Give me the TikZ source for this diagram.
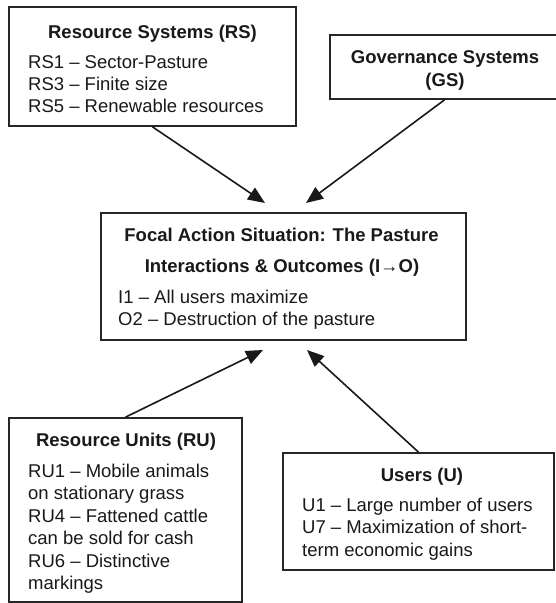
\documentclass[tikz,border=0pt]{standalone}
\usepackage{fontspec}
\setmainfont{Liberation Sans}
\usetikzlibrary{arrows.meta}
\begin{document}
\begin{tikzpicture}[x=1pt,y=-1pt,
  box/.style={draw=black!85, line width=1.7pt, rectangle, inner sep=0pt, fill=white},
  ttl/.style={anchor=base, inner sep=0pt, font=\fontsize{18.5}{22.4}\selectfont\bfseries, text=black!90},
  body/.style={anchor=base west, inner sep=0pt, align=left, font=\fontsize{18.5}{22.4}\selectfont, text=black!90},
  conn/.style={draw=black!90, line width=1.6pt, -{Triangle[length=17pt,width=14pt]}}]
\useasboundingbox[fill=white] (0,0) rectangle (556,603);
% boxes
\node[box, minimum width=287pt, minimum height=119pt] (rs) at (152.5,66.5) {};
\node[box, minimum width=229pt, minimum height=64pt] (gs) at (444.5,67) {};
\node[box, minimum width=365pt, minimum height=127pt] (focal) at (283.5,276.5) {};
\node[box, minimum width=233pt, minimum height=184pt] (ru) at (125.5,510) {};
\node[box, minimum width=271pt, minimum height=117pt] (users) at (418.5,511.5) {};
% texts (base anchor of a multi-line node = baseline of its last line)
\node[ttl] (rst) at (152.5,38.5) {Resource Systems (RS)};
\node[body] (rsb) at (28,112.8) {RS1 – Sector-Pasture\\RS3 – Finite size\\RS5 – Renewable resources};
\node[ttl, align=center] (gst) at (445,86) {Governance Systems\\(GS)};
\node[ttl] (ft1) at (281.5,241.5) {Focal Action Situation: The Pasture};
\node[ttl] (ft2) at (282,272.5) {Interactions \& Outcomes (I→O)};
\node[body] (fb) at (118,325.4) {I1 – All users maximize\\O2 – Destruction of the pasture};
\node[ttl] (rut) at (126,446.5) {Resource Units (RU)};
\node[body] (rub) at (28,589.5) {RU1 – Mobile animals\\on stationary grass\\RU4 – Fattened cattle\\can be sold for cash\\RU6 – Distinctive\\markings};
\node[ttl] (ut) at (422,481.5) {Users (U)};
\node[body] (ub) at (302,556.3) {U1 – Large number of users\\U7 – Maximization of short-\\term economic gains};
% arrow ends
\coordinate (e1) at (265,203);
\coordinate (e2) at (306,203);
\coordinate (e3) at (263,350);
\coordinate (e4) at (307,350);
\draw[conn] (rs.south) -- (e1);
\draw[conn] (gs.south) -- (e2);
\draw[conn] (ru.north) -- (e3);
\draw[conn] (users.north) -- (e4);
\end{tikzpicture}
\end{document}
